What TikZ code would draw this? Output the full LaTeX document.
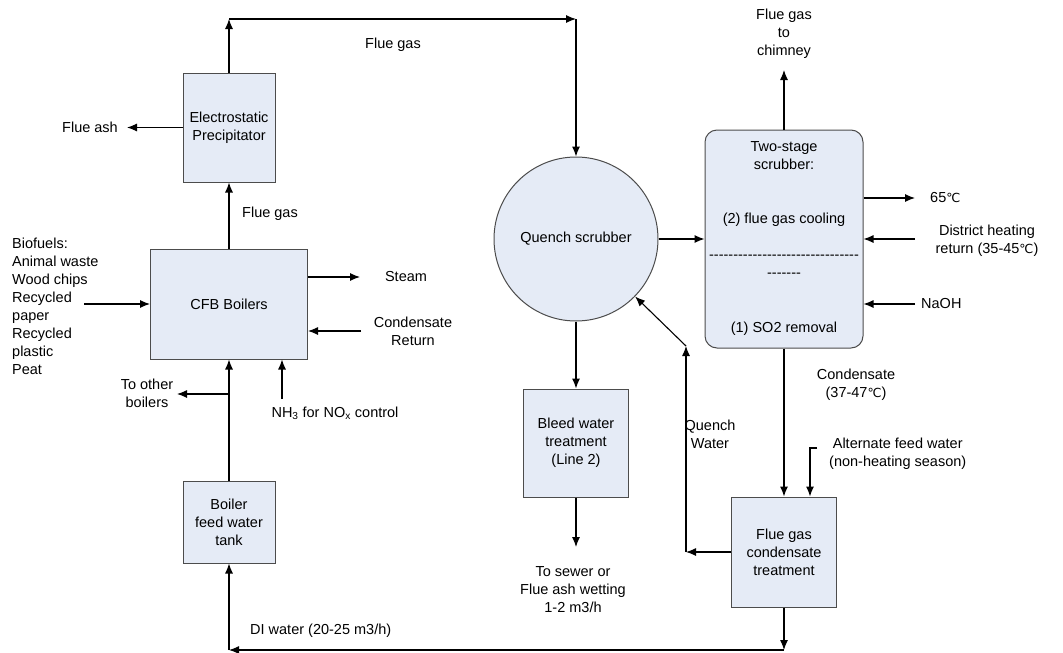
\documentclass[tikz,border=0pt]{standalone}
\usepackage{fontspec}
\setmainfont{Liberation Sans}
\newfontfamily\degfont{DejaVu Sans}
\usetikzlibrary{positioning,arrows.meta}
\definecolor{boxfill}{RGB}{229,235,246}
\newcommand{\degC}{{\degfont\fontsize{12.5}{18}\selectfont ℃}}
\newcommand{\hyrow}[1]{\foreach \k in {1,...,#1}{-}}
\tikzset{
  unit/.style={draw=black!70, fill=boxfill, line width=1pt, align=center, inner sep=0pt},
  lbl/.style={align=center, inner sep=0pt},
  flow/.style={-{Latex[length=10pt,width=8pt]}, line width=1.1pt},
}
\begin{document}
\begin{tikzpicture}[x=1pt,y=-1pt,font=\fontsize{14.5}{18}\selectfont]
\useasboundingbox (0,0) rectangle (1063,653);
% units
\node[unit, minimum width=92pt, minimum height=109pt] (esp) at (229,127.5) {Electrostatic\\Precipitator};
\node[unit, minimum width=157pt, minimum height=110pt] (cfb) at (229,304) {CFB Boilers};
\node[unit, minimum width=92pt, minimum height=82pt] (tank) at (229,522) {Boiler\\feed water\\tank};
\node[unit, circle, minimum size=164pt] (quench) at (576,239) {Quench scrubber};
\node[unit, rounded corners=12pt, minimum width=158pt, minimum height=218pt] (scrub) at (784,239) {};
\node[unit, minimum width=105pt, minimum height=108pt] (bleed) at (576,443) {Bleed water\\treatment\\(Line 2)};
\node[unit, minimum width=105pt, minimum height=110pt] (fgc) at (784,552) {Flue gas\\condensate\\treatment};
% inside the scrubber
\node[lbl] (twostage) at (784,156) {Two-stage\\scrubber:};
\node[lbl] (cooling) at (784,220) {(2) flue gas cooling};
\node[lbl] (divider) at (784,266) {\hyrow{31}\\\hyrow{7}};
\node[lbl] (so2) at (784,329) {(1) SO2 removal};
% labels
\node[lbl] (fluegastop) at (393,45) {Flue gas};
\node[lbl, anchor=east] (ash) at (118,127) {Flue ash};
\node[lbl, anchor=west] (fluegasmid) at (242,214) {Flue gas};
\node[lbl, align=left, anchor=west] (fuels) at (12,306) {Biofuels:\\Animal waste\\Wood chips\\Recycled\\paper\\Recycled\\plastic\\Peat};
\node[lbl] (steam) at (406,277) {Steam};
\node[lbl] (condret) at (413,331) {Condensate\\Return};
\node[lbl] (others) at (147,393) {To other\\boilers};
\node[lbl] (nh3) at (335,413) {NH\textsubscript{3} for NO\textsubscript{x} control};
\node[lbl, anchor=west] (diwater) at (250,631) {DI water (20-25 m3/h)};
\node[lbl] (chimney) at (784,34) {Flue gas\\to\\chimney};
\node[lbl, anchor=west] (hot) at (930,198) {65\degC};
\node[lbl] (dhreturn) at (987,241) {District heating\\return (35-45\degC)};
\node[lbl, anchor=west] (naoh) at (921,304) {NaOH};
\node[lbl] (sewer) at (573,590) {To sewer or\\Flue ash wetting\\1-2 m3/h};
\node[lbl] (condensate) at (856,385) {Condensate\\(37-47\degC)};
\node[lbl, anchor=west] (altfeed) at (829,454) {Alternate feed water\\(non-heating season)};
\node[lbl] (qwater) at (710,434) {Quench\\Water};
% free ends
\coordinate (topleft) at (229,19);
\coordinate (topright) at (576,19);
\coordinate (ashtip) at (127,127.5);
\coordinate (fuelin) at (84,304);
\coordinate (steamtip) at (360,277);
\coordinate (condin) at (361,331);
\coordinate (split) at (229,394);
\coordinate (othertip) at (177,394);
\coordinate (nh3in) at (282,399);
\coordinate (bottomright) at (784,650);
\coordinate (bottomleft) at (229,650);
\coordinate (chimtip) at (784,70);
\coordinate (hottip) at (915,198);
\coordinate (dhin) at (915,239);
\coordinate (naohin) at (915,304);
\coordinate (sewertip) at (576,547);
\coordinate (altin) at (817,448);
\coordinate (altcorner) at (810,448);
\coordinate (qwcorner) at (686,552);
\coordinate (qwtop) at (686,346);
% flows
\draw[flow] (esp.north) -- (topleft);
\draw[flow] (topleft) -- (topright);
\draw[flow] (topright) -- (quench.north);
\draw[flow] (esp.west) -- (ashtip);
\draw[flow] (cfb.north) -- (esp.south);
\draw[flow] (fuelin) -- (cfb.west);
\draw[flow] (steamtip -| cfb.east) -- (steamtip);
\draw[flow] (condin) -- (condin -| cfb.east);
\draw[flow] (tank.north) -- (cfb.south);
\draw[flow] (split) -- (othertip);
\draw[flow] (nh3in) -- (nh3in |- cfb.south);
\draw[flow] (fgc.south) -- (bottomright);
\draw[flow] (bottomright) -- (bottomleft);
\draw[flow] (bottomleft) -- (tank.south);
\draw[flow] (quench.east) -- (scrub.west);
\draw[flow] (scrub.north) -- (chimtip);
\draw[flow] (hottip -| scrub.east) -- (hottip);
\draw[flow] (dhin) -- (dhin -| scrub.east);
\draw[flow] (naohin) -- (naohin -| scrub.east);
\draw[flow] (quench.south) -- (bleed.north);
\draw[flow] (bleed.south) -- (sewertip);
\draw[flow] (scrub.south) -- (fgc.north);
\draw[flow] (altin) -- (altcorner) -- (altcorner |- fgc.north);
\draw[flow] (fgc.west) -- (qwcorner);
\draw[flow] (qwcorner) -- (qwtop);
\draw[flow] (qwtop) -- (quench);
\end{tikzpicture}
\end{document}
